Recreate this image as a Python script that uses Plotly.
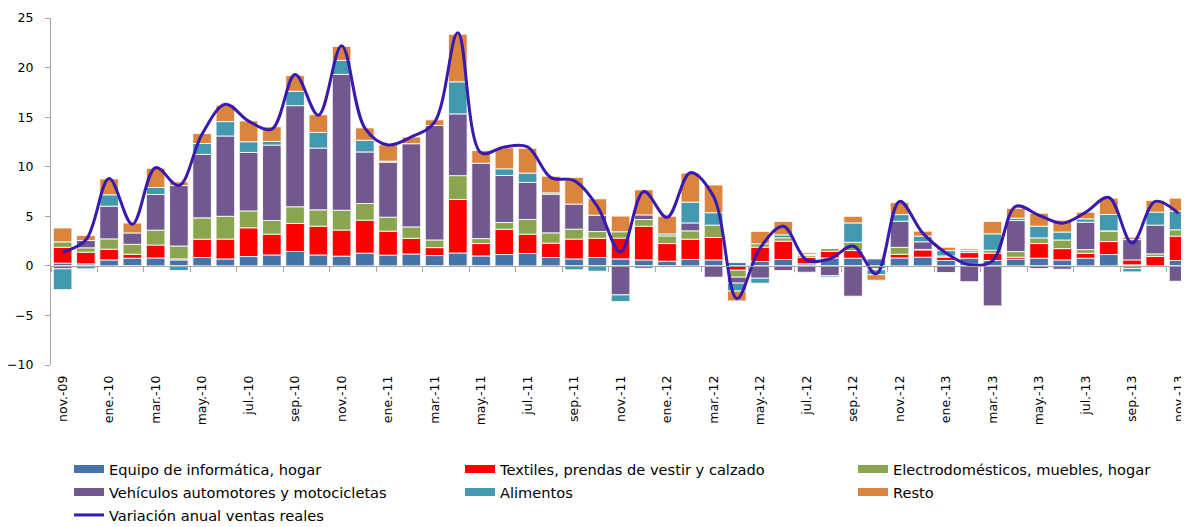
import plotly.graph_objects as go

meses = [
    "nov.-09", "dic.-09",
    "ene.-10", "feb.-10", "mar.-10", "abr.-10", "may.-10", "jun.-10",
    "jul.-10", "ago.-10", "sep.-10", "oct.-10", "nov.-10", "dic.-10",
    "ene.-11", "feb.-11", "mar.-11", "abr.-11", "may.-11", "jun.-11",
    "jul.-11", "ago.-11", "sep.-11", "oct.-11", "nov.-11", "dic.-11",
    "ene.-12", "feb.-12", "mar.-12", "abr.-12", "may.-12", "jun.-12",
    "jul.-12", "ago.-12", "sep.-12", "oct.-12", "nov.-12", "dic.-12",
    "ene.-13", "feb.-13", "mar.-13", "abr.-13", "may.-13", "jun.-13",
    "jul.-13", "ago.-13", "sep.-13", "oct.-13", "nov.-13",
]

equipo = [0.27, 0.2, 0.6, 0.77, 0.8, 0.6, 0.84, 0.7, 0.94, 1.1, 1.45, 1.1, 0.98, 1.28,
          1.08, 1.2, 1.04, 1.3, 1.0, 1.14, 1.25, 0.84, 0.7, 0.84, 0.7, 0.6,
          0.47, 0.64, 0.6, 0.33, 0.44, 0.64, 0.2, 0.8, 0.77, 0.7, 0.8, 0.87,
          0.54, 0.77, 0.54, 0.67, 0.77, 0.6, 0.77, 1.14, 0.1, -0.13, 0.54]
textiles = [1.6, 1.18, 1.08, 0.4, 1.3, 0.1, 1.85, 2.0, 2.9, 2.1, 2.83, 2.9, 2.63, 3.33,
            2.42, 1.58, 0.8, 5.4, 1.25, 2.56, 1.95, 1.45, 2.0, 1.95, 2.1, 3.4,
            1.78, 2.05, 2.26, -0.44, 1.45, 1.85, 0.67, 0.67, 0.77, -0.25, 0.37, 0.74,
            0.34, 0.57, 0.74, 0.2, 1.48, 1.14, 0.5, 1.31, 0.5, 0.94, 2.46]
electro = [0.55, 0.44, 1.04, 1.0, 1.5, 1.3, 2.15, 2.3, 1.7, 1.38, 1.68, 1.65, 2.0, 1.68,
           1.41, 1.15, 0.77, 2.4, 0.5, 0.67, 1.48, 1.04, 1.0, 0.67, 0.64, 0.67,
           0.77, 0.84, 1.25, -0.7, 0.34, 0.34, 0.17, 0.3, 0.84, -0.1, 0.7, 0.05,
           0.12, 0.2, 0.3, 0.57, 0.57, 0.87, 0.37, 1.08, -0.27, 0.27, 0.64]
vehiculos = [-0.3, 0.74, 3.3, 1.15, 3.6, 6.1, 6.4, 8.1, 5.9, 7.6, 10.2, 6.23, 13.7, 5.2,
             5.55, 8.4, 11.55, 6.23, 7.6, 4.75, 3.74, 3.9, 2.53, 1.65, -2.93, 0.47,
             -0.13, 0.8, -1.14, -0.6, -1.25, -0.47, -0.64, -1.0, -3.06, -0.05, 2.63, 0.77,
             -0.67, -1.6, -4.04, 3.13, -0.27, -0.34, 2.76, 0.0, 2.05, 2.9, -1.55]
alimentos = [-2.1, -0.3, 1.15, -0.1, 0.7, -0.47, 1.1, 1.45, 1.08, 0.37, 1.45, 1.58, 1.41, 1.18,
             0.1, 0.0, -0.13, 3.23, -0.13, 0.67, 0.94, 0.13, -0.4, -0.54, -0.67, -0.27,
             0.2, 2.1, 1.25, -0.8, -0.5, 0.3, 0.1, -0.13, 1.95, -0.5, 0.67, 0.57,
             0.54, 0.0, 1.65, 0.24, 1.18, 0.8, 0.34, 1.65, -0.34, 1.31, 1.88]
resto = [1.4, 0.5, 1.6, 1.0, 1.95, 0.37, 1.0, 1.65, 2.1, 1.48, 1.58, 1.78, 1.41, 1.25,
         1.65, 0.67, 0.57, 4.8, 1.28, 2.12, 2.5, 1.68, 2.7, 1.65, 1.58, 2.53,
         1.78, 2.93, 2.8, -1.0, 1.25, 1.35, 0.17, 0.0, 0.67, -0.55, 1.2, 0.5,
         0.34, 0.17, 1.25, 1.0, 1.31, 1.2, 0.67, 1.65, 0.24, 1.18, 1.31]
variacion = [1.4, 2.6, 8.8, 4.2, 9.9, 8.1, 13.3, 16.3, 14.6, 13.8, 19.3, 15.2, 22.2, 13.9,
             12.2, 13.0, 14.5, 23.5, 11.4, 12.0, 12.0, 8.9, 8.6, 6.0, 1.4, 7.5,
             4.9, 9.4, 7.0, -3.3, 1.8, 4.0, 0.6, 0.7, 2.0, -0.8, 6.5, 3.3,
             1.3, 0.1, 0.5, 6.0, 5.1, 4.3, 5.4, 6.9, 2.3, 6.5, 5.3]

series = [
    ("Equipo de informática, hogar", equipo, "#4572A7", "legend", 1),
    ("Textiles, prendas de vestir y calzado", textiles, "#FF0000", "legend2", 1),
    ("Electrodomésticos, muebles, hogar", electro, "#89A54E", "legend3", 1),
    ("Vehículos automotores y motocicletas", vehiculos, "#71588F", "legend", 2),
    ("Alimentos", alimentos, "#4198AF", "legend2", 2),
    ("Resto", resto, "#DB843D", "legend3", 2),
]
line_color = "#3A1AAE"
axis_gray = "#A6A6A6"
font_txt = "DejaVu Sans, Liberation Sans, sans-serif"

W, H = 1181, 519  # page body adds 8px around the figure

fig = go.Figure()

for name, vals, color, leg, rank in series:
    fig.add_trace(go.Bar(
        x=meses, y=vals, name=name, showlegend=False,
        marker=dict(color=color, line=dict(color="rgba(255,255,255,0.85)", width=1)),
    ))

fig.add_trace(go.Scatter(
    x=meses, y=variacion, name="Variación anual ventas reales",
    mode="lines", line=dict(color=line_color, width=3, shape="spline", smoothing=1.0),
    legend="legend", legendrank=3, legendgroup="g7",
))

# legend-only entries with wide swatches like the original
for i, (name, vals, color, leg, rank) in enumerate(series):
    fig.add_trace(go.Scatter(
        x=[None], y=[None], name=name, mode="lines",
        line=dict(color=color, width=8), legend=leg, legendrank=rank,
        legendgroup=f"g{i}",
    ))

# zero line with the tick marks
fig.add_trace(go.Scatter(x=meses, y=[None] * len(meses), xaxis="x2",
                         showlegend=False, hoverinfo="skip"))

legend_style = dict(
    orientation="v", xref="container", yref="container",
    xanchor="left", yanchor="top", y=1 - 445 / H,
    font=dict(family=font_txt, size=14.6, color="#000000"),
    bgcolor="rgba(0,0,0,0)", tracegroupgap=1, traceorder="grouped", itemwidth=30,
)

fig.update_layout(
    width=W, height=H,
    margin=dict(l=43, r=0, t=10, b=162, autoexpand=False),
    plot_bgcolor="white", paper_bgcolor="white",
    barmode="relative", bargap=0.2,
    font=dict(family=font_txt, size=13, color="#000000"),
    xaxis=dict(
        type="category", categoryorder="array", categoryarray=meses,
        range=[-0.5, 48.45], tickvals=meses[::2], tickangle=-90,
        ticks="", showline=False, showgrid=False, zeroline=False,
        ticklabelstandoff=7, automargin=False,
        tickfont=dict(family=font_txt, size=12.5, color="#000000"),
    ),
    xaxis2=dict(
        type="category", categoryorder="array", categoryarray=meses,
        range=[-0.5, 48.45], overlaying="x", anchor="free", position=10 / 35,
        side="bottom", tickvals=meses[::2], tickson="boundaries",
        ticks="outside", ticklen=5, tickcolor=axis_gray,
        showline=True, linecolor=axis_gray, linewidth=1,
        showticklabels=False, showgrid=False, zeroline=False, automargin=False,
    ),
    yaxis=dict(
        range=[-10, 25], dtick=5, showgrid=False, zeroline=False,
        showline=True, linecolor=axis_gray, linewidth=1,
        ticks="outside", ticklen=5, tickcolor=axis_gray,
        ticklabelstandoff=9, automargin=False,
        tickfont=dict(family=font_txt, size=12.5, color="#000000"),
    ),
    legend=dict(legend_style, x=61 / W),
    legend2=dict(legend_style, x=452 / W),
    legend3=dict(legend_style, x=845 / W),
)

fig.write_html("out.html")
